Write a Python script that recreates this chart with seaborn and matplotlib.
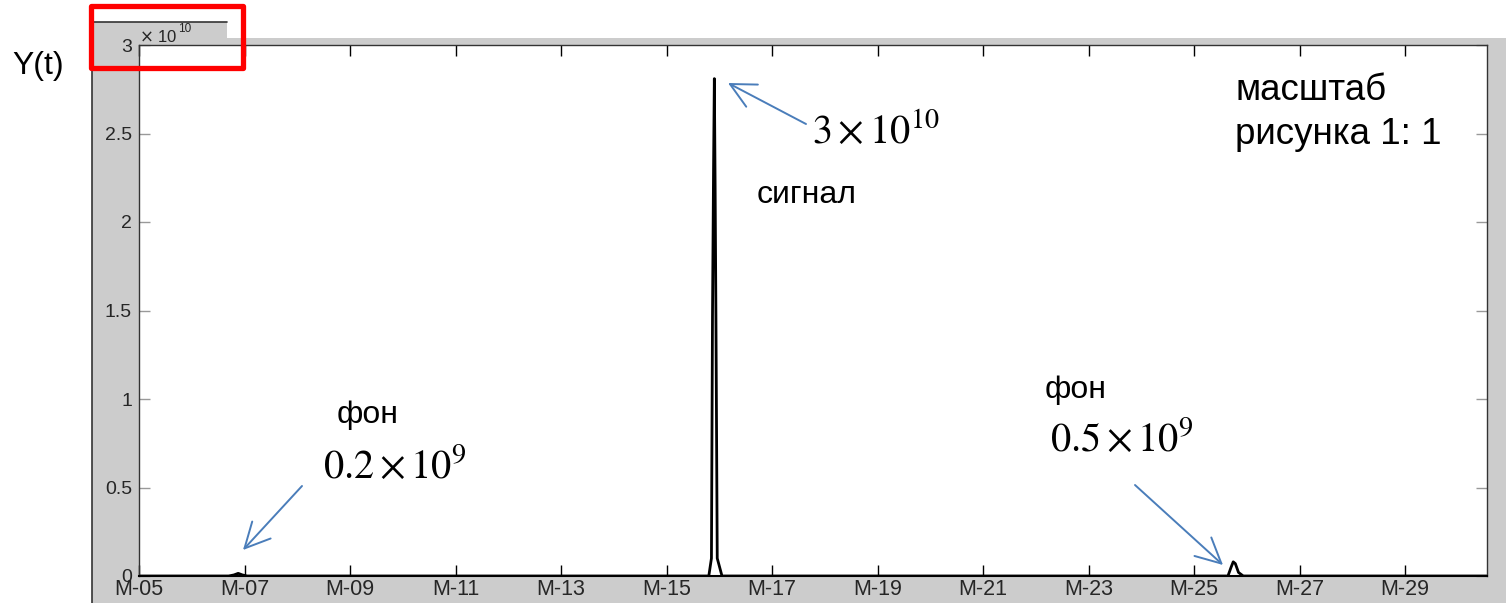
import matplotlib
matplotlib.use("Agg")
import matplotlib.pyplot as plt
from matplotlib.patches import Rectangle
from matplotlib.lines import Line2D
import seaborn as sns
import pandas as pd

# ---- data (time in months, Y in units of 1e10) ----
t_month = [5.0, 6.70, 6.80, 6.88, 6.96, 7.05,
           15.70, 15.80, 15.85, 15.87, 15.89, 15.905, 15.92, 15.935, 15.96, 16.05,
           25.55, 25.64, 25.70, 25.74, 25.78, 25.84, 25.93, 30.55]
y_val = [0.0, 0.0, 0.006, 0.015, 0.006, 0.0,
         0.0, 0.0, 0.10, 1.47, 2.30, 2.81, 2.20, 1.47, 0.10, 0.0,
         0.0, 0.0, 0.05, 0.08, 0.07, 0.02, 0.0, 0.0]
xtick_pos = [5, 7, 9, 11, 13, 15, 17, 19, 21, 23, 25, 27, 29]
xtick_labels = ["M-05", "M-07", "M-09", "M-11", "M-13", "M-15", "M-17",
                "M-19", "M-21", "M-23", "M-25", "M-27", "M-29"]
ytick_pos = [0, 0.5, 1, 1.5, 2, 2.5, 3]
ytick_labels = ["0", "0.5", "1", "1.5", "2", "2.5", "3"]

sns.set_theme(style="ticks")
plt.rcParams["font.family"] = ["Liberation Sans", "DejaVu Sans"]
plt.rcParams["text.color"] = "black"

W, H = 1506, 603
fig = plt.figure(figsize=(W / 100, H / 100), dpi=100)
fig.patch.set_facecolor("white")

def fx(px):
    return px / W

def fy(py):
    return 1 - py / H

# gray MATLAB figure background
fig.patches.append(Rectangle((fx(92), 0), 1 - fx(92), fy(38), transform=fig.transFigure,
                             facecolor="#cccccc", edgecolor="none", zorder=-2))
fig.patches.append(Rectangle((fx(92), fy(38)), fx(227) - fx(92), fy(22) - fy(38),
                             transform=fig.transFigure, facecolor="#cccccc",
                             edgecolor="none", zorder=-2))
fig.lines.append(Line2D([fx(92), fx(92), fx(227)], [0, fy(22), fy(22)],
                        transform=fig.transFigure, color="#333333", lw=1.2, zorder=-1))

ax = fig.add_axes([fx(139), fy(576), fx(1487) - fx(139), fy(45) - fy(576)])
ax.set_facecolor("white")

df = pd.DataFrame({"t": t_month, "y": y_val})
sns.lineplot(data=df, x="t", y="y", ax=ax, color="black", lw=2, sort=False,
             estimator=None)

ax.set_xlim(5, 30.55)
ax.set_ylim(0, 3)
ax.set_xticks(xtick_pos)
ax.set_xticklabels(xtick_labels, fontsize=15.5, color="#262626")
ax.set_yticks(ytick_pos)
ax.set_yticklabels(ytick_labels, fontsize=14, color="#262626")
ax.set_xlabel("")
ax.set_ylabel("")
ax.tick_params(axis="x", direction="in", length=8, width=1, top=True, bottom=True,
               pad=2, color="black")
ax.tick_params(axis="y", direction="in", length=8, width=1, left=True, right=True,
               pad=5, color="#999999")
for s in ax.spines.values():
    s.set_visible(True)
    s.set_color("#333333")
    s.set_linewidth(1)
ax.spines["bottom"].set_color("black")
ax.spines["bottom"].set_linewidth(1.5)

# exponent label
fig.text(fx(139), fy(37), r"$\times$ 10", fontsize=12, color="#262626",
         ha="left", va="center")
fig.text(fx(178), fy(29), "10", fontsize=8.5, color="#262626", ha="left", va="center")

# Y(t)
fig.text(fx(12), fy(66), "Y(t)", fontsize=23, ha="left", va="center")

# annotations
fig.text(fx(1235), fy(90), "масштаб", fontsize=26.5, ha="left", va="center")
fig.text(fx(1235), fy(135), "рисунка 1: 1", fontsize=26.5, ha="left", va="center")
fig.text(fx(757), fy(195), "сигнал", fontsize=23, ha="left", va="center")
fig.text(fx(337), fy(415), "фон", fontsize=23, ha="left", va="center")
fig.text(fx(1045), fy(390), "фон", fontsize=23, ha="left", va="center")

serif = dict(family=["Liberation Serif", "DejaVu Serif"], math_fontfamily="stix",
             fontsize=29, ha="left", va="baseline", color="black")
fig.text(fx(812), fy(143), r"$3\times10^{10}$", **serif)
fig.text(fx(323), fy(478), r"$0.2\times10^{9}$", **serif)
fig.text(fx(1050), fy(451), r"$0.5\times10^{9}$", **serif)

arrow_kw = dict(arrowstyle="->,head_length=0.9,head_width=0.45", color="#4a7dba", lw=1.4,
                shrinkA=0, shrinkB=0, mutation_scale=20)
for (x0, y0), (x1, y1) in [((806, 124), (728, 83)),
                           ((302, 486), (243, 550)),
                           ((1135, 485), (1223, 565))]:
    ax.annotate("", xy=(x1, H - y1), xytext=(x0, H - y0), xycoords="figure pixels",
                textcoords="figure pixels", arrowprops=arrow_kw, annotation_clip=False)

# red highlight box
fig.patches.append(Rectangle((fx(91), fy(68)), fx(243) - fx(91), fy(6) - fy(68),
                             transform=fig.transFigure, facecolor="none",
                             edgecolor="#ff0000", lw=3.8, joinstyle="round", zorder=5))

fig.savefig("out.png", dpi=100)
